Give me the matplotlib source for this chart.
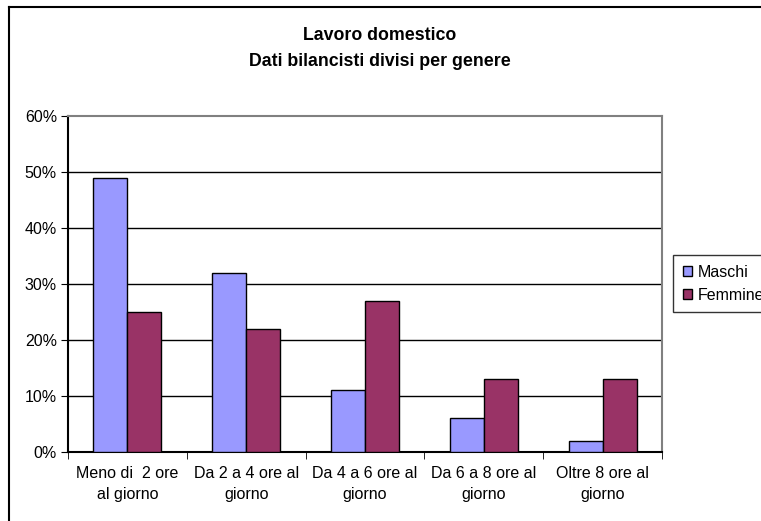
import matplotlib
matplotlib.use("Agg")
import matplotlib.pyplot as plt
import numpy as np
from matplotlib.lines import Line2D

categories = ["Meno di  2 ore\nal giorno", "Da 2 a 4 ore al\ngiorno", "Da 4 a 6 ore al\ngiorno",
              "Da 6 a 8 ore al\ngiorno", "Oltre 8 ore al\ngiorno"]
maschi = [49, 32, 11, 6, 2]
femmine = [25, 22, 27, 13, 13]
yticks = [0, 10, 20, 30, 40, 50, 60]
ytick_labels = ["0%", "10%", "20%", "30%", "40%", "50%", "60%"]

plt.rcParams['font.family'] = ['Liberation Sans', 'DejaVu Sans']

W, H = 761, 521
fig = plt.figure(figsize=(W/100, H/100), dpi=100)
ax = fig.add_axes([68/W, 1-452/H, (662-68)/W, (452-116)/H])

x = np.arange(len(categories))
bw = 0.286
ax.bar(x - bw/2, maschi, bw, color='#9999FF', edgecolor='black', linewidth=1, label='Maschi', zorder=3)
ax.bar(x + bw/2, femmine, bw, color='#993366', edgecolor='black', linewidth=1, label='Femmine', zorder=3)

ax.set_xlim(-0.5, len(categories)-0.5)
ax.set_ylim(0, 60)
ax.set_yticks(yticks)
ax.set_yticklabels(ytick_labels, fontsize=11.5)
for yv in yticks[1:-1]:
    ax.axhline(yv, color='black', linewidth=1, zorder=1)

ax.set_xticks(x)
ax.set_xticklabels(categories, fontsize=11.5, linespacing=1.5)
ax.tick_params(axis='x', length=0, pad=10)
ax.set_xticks(np.arange(len(categories)+1) - 0.5, minor=True)
ax.tick_params(axis='x', which='minor', length=5, direction='out', color='black')
ax.tick_params(axis='y', length=5, direction='out', color='black', pad=3)

ax.spines['left'].set_color('black')
ax.spines['bottom'].set_color('black')
ax.spines['top'].set_color('#808080')
ax.spines['right'].set_color('#808080')
for s in ax.spines.values():
    s.set_linewidth(1.5)

fig.text(380/W, 1-35/H, "Lavoro domestico", ha='center', va='center', fontsize=12.8, fontweight='bold')
fig.text(380/W, 1-62/H, "Dati bilancisti divisi per genere", ha='center', va='center', fontsize=12.8, fontweight='bold')

leg = fig.legend(loc='upper left', bbox_to_anchor=(673/W, 1-255/H), fontsize=11.5,
                 frameon=True, fancybox=False, edgecolor='black', handlelength=0.6,
                 handleheight=0.6, handletextpad=0.35, borderpad=0.6, labelspacing=0.5,
                 borderaxespad=0)
leg.get_frame().set_linewidth(1)

fig.add_artist(Line2D([9/W, 9/W], [0, 1-7/H], transform=fig.transFigure, color='black', linewidth=1.5))
fig.add_artist(Line2D([9/W, 1], [1-7/H, 1-7/H], transform=fig.transFigure, color='black', linewidth=1.5))

fig.savefig("out.png", dpi=100)
